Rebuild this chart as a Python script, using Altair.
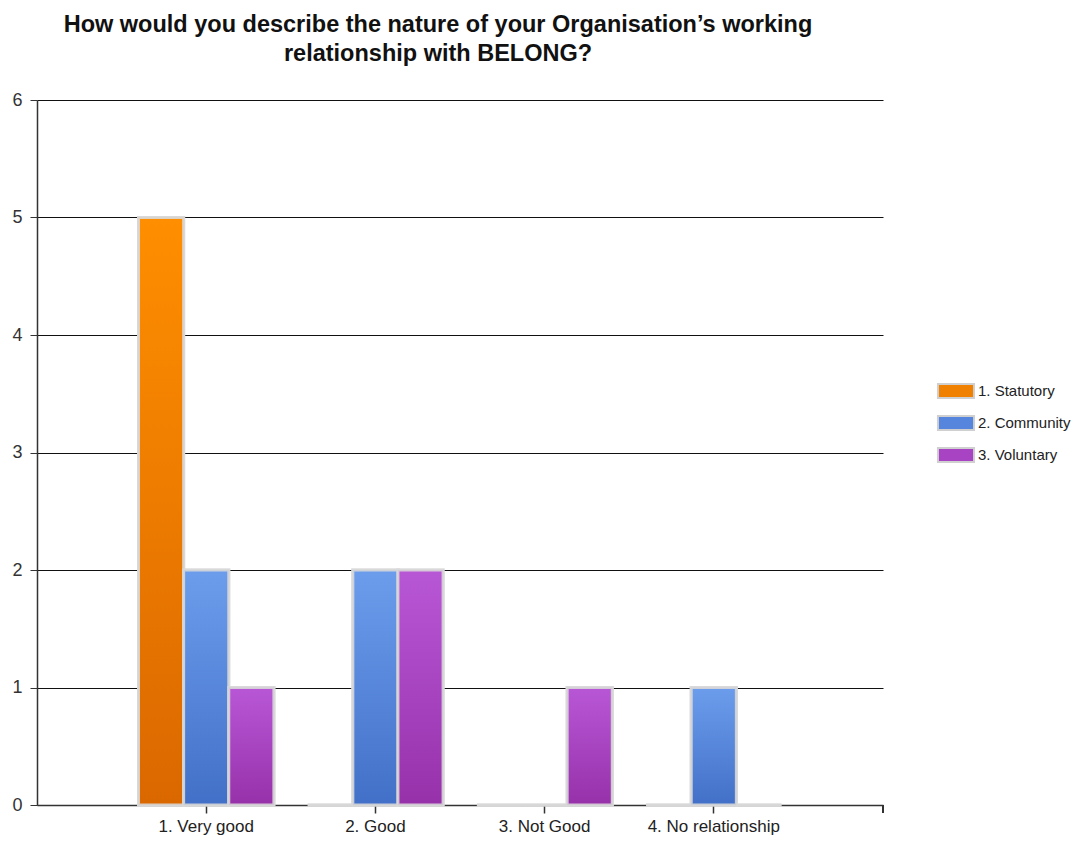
import altair as alt
import pandas as pd

categories = ["1. Very good", "2. Good", "3. Not Good", "4. No relationship"]
series = ["1. Statutory", "2. Community", "3. Voluntary"]
statutory = [5, 0, 0, 0]
community = [2, 2, 0, 1]
voluntary = [1, 2, 1, 0]

rows = []
for name, vals in zip(series, [statutory, community, voluntary]):
    for c, v in zip(categories, vals):
        rows.append({"category": c, "series": name, "value": v})
df = pd.DataFrame(rows)

solid = ["#f08000", "#5585dd", "#a844c4"]
grads = [("#ff8e00", "#da6800"), ("#6c9dec", "#4270c8"), ("#b857d6", "#9731aa")]

W, H = 846, 705

x = alt.X("category:N", sort=categories, title=None,
          scale=alt.Scale(paddingInner=0.2, paddingOuter=0.6),
          axis=alt.Axis(labelAngle=0, labelFont="Liberation Sans", labelFontSize=17,
                        labelColor="#222", domainColor="#333", domainWidth=1.5,
                        tickColor="#333", tickSize=8, tickWidth=1.5, labelPadding=5,
                        grid=False))
xo = alt.XOffset("series:N", sort=series, scale=alt.Scale(paddingInner=0, paddingOuter=0))
y = alt.Y("value:Q", title=None,
          scale=alt.Scale(domain=[0, 6], nice=False),
          axis=alt.Axis(values=[0, 1, 2, 3, 4, 5, 6], format="d",
                        labelFont="Liberation Sans", labelFontSize=18, labelColor="#333",
                        domainColor="#333", domainWidth=1.5, tickColor="#333",
                        tickSize=7, labelPadding=8,
                        grid=True, gridColor="#111", gridWidth=1.2))

base = alt.Chart(df).mark_bar(stroke="#d8d8d8", strokeWidth=3, strokeOpacity=0.9).encode(
    x=x, xOffset=xo, y=y,
    color=alt.Color("series:N", sort=series,
                    scale=alt.Scale(domain=series, range=solid),
                    legend=alt.Legend(title=None, orient="none", legendX=904, legendY=276,
                                      symbolType="M-1.29,-0.5H1.29V0.5H-1.29Z",
                                      symbolSize=784, symbolStrokeColor="#d0d0d0",
                                      symbolStrokeWidth=2, symbolOpacity=1,
                                      labelFont="Liberation Sans", labelFontSize=15,
                                      labelColor="#222", labelOffset=7, rowPadding=6,
                                      labelLimit=200)),
)

layers = [base]
for name, (top, bot) in zip(series, grads):
    g = alt.Gradient(gradient="linear",
                     stops=[alt.GradientStop(color=top, offset=0),
                            alt.GradientStop(color=bot, offset=1)],
                     x1=0, x2=0, y1=0, y2=1)
    layers.append(
        alt.Chart(df).transform_filter(alt.datum.series == name)
        .mark_bar(fill=g, stroke="#d8d8d8", strokeWidth=3, strokeOpacity=0.9)
        .encode(x=x, xOffset=xo, y=y)
    )

end_tick = alt.Chart(df).mark_rule(color="#333", strokeWidth=1.5).encode(
    x=alt.value(W), y=alt.value(H), y2=alt.value(H + 8))

chart = alt.layer(*layers, end_tick).properties(
    width=W, height=H,
    title=alt.TitleParams(
        ["How would you describe the nature of your Organisation\u2019s working",
         "relationship with BELONG?"],
        font="Liberation Sans", fontSize=23.5, fontWeight="bold", color="#111",
        anchor="middle", dx=-22, offset=26, lineHeight=29),
    padding={"left": 29, "top": 92, "right": 191, "bottom": 30},
    autosize=alt.AutoSizeParams(type="none"),
).configure_view(stroke=None)

chart.save("out.html", embed_options={"renderer": "svg", "actions": False})
